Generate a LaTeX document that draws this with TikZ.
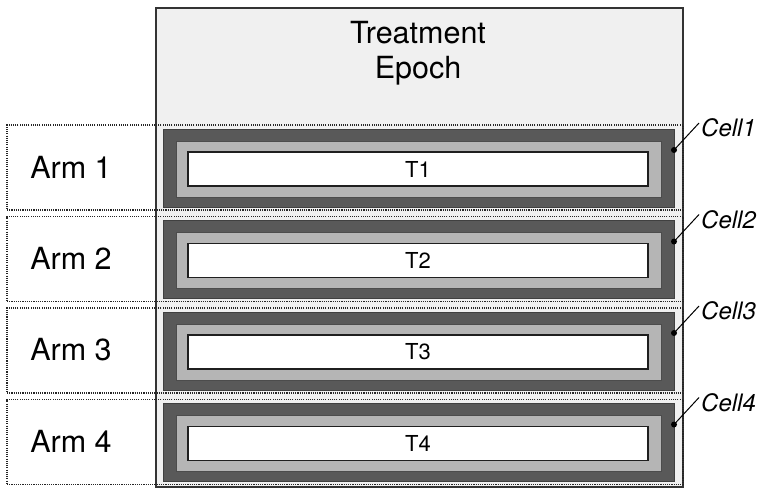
\documentclass[tikz,border=0pt]{standalone}
\usepackage{fontspec}
\setmainfont{TeX Gyre Heros}
\begin{document}
\begin{tikzpicture}[x=1pt, y=-1pt,
	epoch/.style = {draw=black!80, fill=black!6, line width=1.3pt, minimum width=527pt, minimum height=479pt, inner sep=0pt},
	arm/.style = {draw=black!85, line width=1.1pt, dash pattern=on 1.1pt off 1.1pt, minimum width=676pt, minimum height=85pt, inner sep=0pt},
	outer/.style = {draw=black!75, fill=black!65, line width=0.8pt, minimum width=511pt, minimum height=78pt, inner sep=0pt},
	middle/.style = {draw=black!70, fill=black!29, line width=0.8pt, minimum width=485pt, minimum height=56pt, inner sep=0pt},
	inner/.style = {draw=black!88, fill=white, line width=1.6pt, minimum width=460pt, minimum height=34pt, inner sep=0pt, font=\fontsize{22}{26}\selectfont},
	armlabel/.style = {font=\fontsize{30.5}{35}\selectfont},
	celllabel/.style = {anchor=west, inner sep=2pt, font=\fontsize{24}{28}\selectfont\itshape},
	dot/.style = {circle, fill=black, inner sep=0pt, minimum size=6pt}]
	\useasboundingbox (0,0) rectangle (767,493);
	
	\node[epoch] (epoch) at (419.5,247.5) {};
	\node[armlabel, align=center] (title) at (418,53) {Treatment\\[0pt]Epoch};
	
	\node[arm] (arm1) at (345,167.5) {};
	\node[arm] (arm2) at (345,259) {};
	\node[arm] (arm3) at (345,350.5) {};
	\node[arm] (arm4) at (345,442) {};
	
	\node[armlabel] (a1) at (71,167) {Arm 1};
	\node[armlabel] (a2) at (71,258.5) {Arm 2};
	\node[armlabel] (a3) at (71,350) {Arm 3};
	\node[armlabel] (a4) at (71,441.5) {Arm 4};
	
	\node[outer] (cell1) at (418.5,168) {};
	\node[middle] (mid1) at (418.5,169) {};
	\node[inner] (t1) at (418,169) {T1};
	\node[outer] (cell2) at (418.5,259.5) {};
	\node[middle] (mid2) at (418.5,260.5) {};
	\node[inner] (t2) at (418,260.5) {T2};
	\node[outer] (cell3) at (418.5,351) {};
	\node[middle] (mid3) at (418.5,352) {};
	\node[inner] (t3) at (418,352) {T3};
	\node[outer] (cell4) at (418.5,442.5) {};
	\node[middle] (mid4) at (418.5,443.5) {};
	\node[inner] (t4) at (418,443.5) {T4};
	
	\node[dot] (d1) at (674,150) {};
	\node[dot] (d2) at (674,241.5) {};
	\node[dot] (d3) at (674,333) {};
	\node[dot] (d4) at (674,424.5) {};
	
	\node[celllabel] (c1) at (699,128) {Cell1};
	\node[celllabel] (c2) at (699,219.5) {Cell2};
	\node[celllabel] (c3) at (699,311) {Cell3};
	\node[celllabel] (c4) at (699,402.5) {Cell4};
	
	\draw[line width=1pt] (d1.center) -- ([yshift=5pt]c1.west);
	\draw[line width=1pt] (d2.center) -- ([yshift=5pt]c2.west);
	\draw[line width=1pt] (d3.center) -- ([yshift=5pt]c3.west);
	\draw[line width=1pt] (d4.center) -- ([yshift=5pt]c4.west);
\end{tikzpicture}
\end{document}
